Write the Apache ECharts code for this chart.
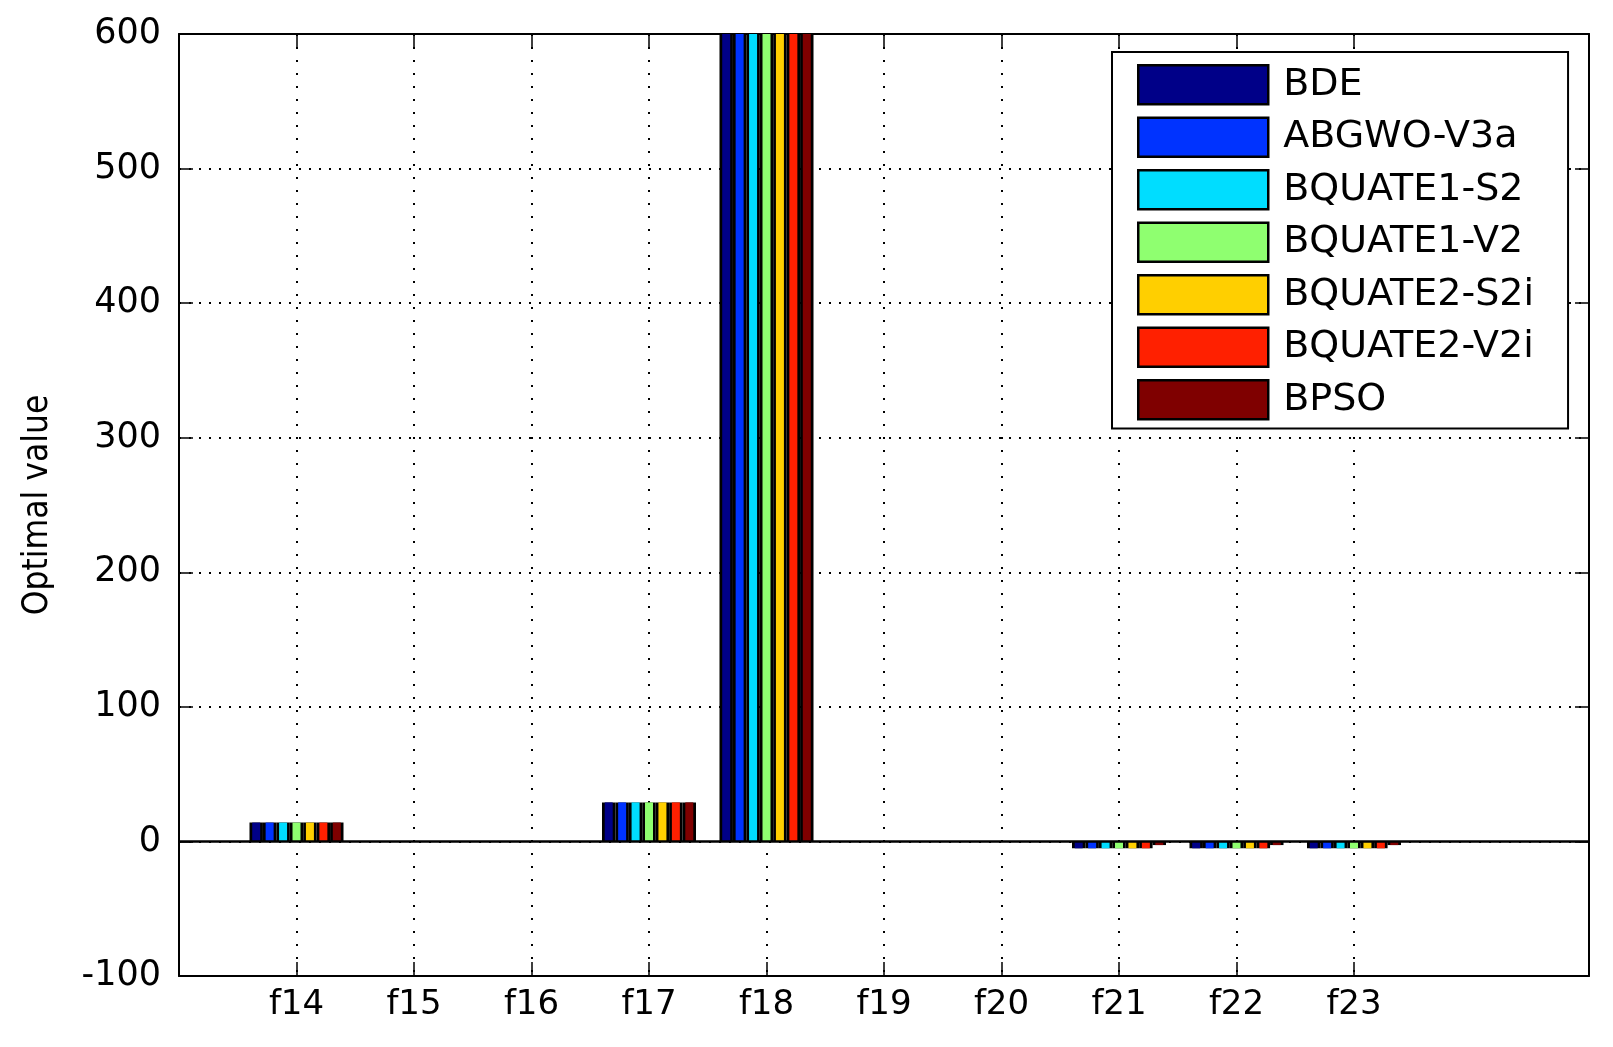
<!DOCTYPE html>
<html>
<head>
<meta charset="utf-8">
<script src="https://cdn.jsdelivr.net/npm/echarts@6/dist/echarts.min.js"></script>
<style>html,body{margin:0;padding:0;background:#fff;}#c{width:1613px;height:1047px;}</style>
</head>
<body>
<div id="c"></div>
<script>
// ---- data ----
const categories = ['f14','f15','f16','f17','f18','f19','f20','f21','f22','f23'];
const seriesNames = ['BDE','ABGWO-V3a','BQUATE1-S2','BQUATE1-V2','BQUATE2-S2i','BQUATE2-V2i','BPSO'];
const seriesColors = ['#000088','#0033ff','#00ddff','#8fff70','#ffcf00','#ff2000','#7f0000'];
const BDE        = [14, 0, 0, 29, 600, 0, 0, -5.1, -5.1, -5.1];
const ABGWO_V3a  = [14, 0, 0, 29, 600, 0, 0, -5.1, -5.1, -5.1];
const BQUATE1_S2 = [14, 0, 0, 29, 600, 0, 0, -5.1, -5.1, -5.1];
const BQUATE1_V2 = [14, 0, 0, 29, 600, 0, 0, -5.1, -5.1, -5.1];
const BQUATE2_S2i= [14, 0, 0, 29, 600, 0, 0, -5.1, -5.1, -5.1];
const BQUATE2_V2i= [14, 0, 0, 29, 600, 0, 0, -5.1, -5.1, -5.1];
const BPSO       = [14, 0, 0, 29, 600, 0, 0, -2.7, -2.7, -2.7];
const yTicks = {min: -100, max: 600, interval: 100};
const yTitle = 'Optimal value';

const allValues = [BDE, ABGWO_V3a, BQUATE1_S2, BQUATE1_V2, BQUATE2_S2i, BQUATE2_V2i, BPSO];
// axis runs 0..12 with categories at positions 1..10
const axisCats = [''].concat(categories, ['', '']);
const pad = v => [null].concat(v, [null, null]);
const isTick = idx => idx >= 1 && idx <= categories.length;

const font = 'DejaVu Sans';
const chart = echarts.init(document.getElementById('c'));

const series = [];
// black edge bars (full slot width) drawn behind the coloured ones
allValues.forEach((vals, i) => {
  series.push({
    name: seriesNames[i] + '_edge',
    type: 'bar',
    xAxisIndex: 1,
    yAxisIndex: 0,
    data: pad(vals.map(v => (v === 0 ? null : v))),
    barWidth: '11.43%',
    barGap: '0%',
    itemStyle: {color: '#000', borderColor: '#000', borderWidth: 3},
    silent: true,
    z: 2,
    markLine: i === 0 ? {
      silent: true, symbol: 'none', label: {show: false},
      lineStyle: {color: '#000', width: 2.5, type: 'solid'},
      data: [{yAxis: 0}], z: 10
    } : undefined
  });
});
// coloured bars
allValues.forEach((vals, i) => {
  series.push({
    name: seriesNames[i],
    type: 'bar',
    xAxisIndex: 0,
    yAxisIndex: 0,
    data: pad(vals),
    barWidth: '6.8%',
    barGap: '68.1%',
    itemStyle: {color: seriesColors[i], borderWidth: 0},
    z: 3
  });
});

chart.setOption({
  animation: false,
  backgroundColor: '#fff',
  grid: {left: 179, right: 24, top: 34, bottom: 71, containLabel: false},
  legend: {
    data: seriesNames,
    orient: 'vertical',
    left: 1112, top: 52,
    itemWidth: 130, itemHeight: 39, itemGap: 11,
    padding: [12, 34, 8, 25],
    borderColor: '#000', borderWidth: 2, backgroundColor: '#fff',
    icon: 'rect',
    itemStyle: {borderColor: '#000', borderWidth: 2.5},
    textStyle: {fontFamily: font, fontSize: 38, lineHeight: 39, color: '#000', padding: [0, 0, 0, 10]},
    selectedMode: false
  },
  xAxis: [{
    type: 'category', data: axisCats, boundaryGap: false, position: 'bottom',
    axisLine: {show: true, onZero: false, lineStyle: {color: '#000', width: 2}},
    axisTick: {show: true, inside: true, length: 14, interval: isTick, lineStyle: {color: '#000', width: 1.5}},
    axisLabel: {show: true, interval: 0, margin: 12, fontFamily: font, fontSize: 34, color: '#000'},
    splitLine: {show: true, interval: isTick, lineStyle: {color: '#000', width: 2, type: [2, 11]}}
  }, {
    type: 'category', data: axisCats, boundaryGap: false, position: 'top',
    axisLine: {show: true, onZero: false, lineStyle: {color: '#000', width: 2}},
    axisTick: {show: true, inside: true, length: 14, interval: isTick, lineStyle: {color: '#000', width: 1.5}},
    axisLabel: {show: false},
    splitLine: {show: false}
  }],
  yAxis: [{
    type: 'value', min: yTicks.min, max: yTicks.max, interval: yTicks.interval, position: 'left',
    name: yTitle, nameLocation: 'middle', nameGap: 124, nameRotate: 90,
    nameTextStyle: {fontFamily: "'DejaVu Sans Condensed', 'DejaVu Sans'", fontSize: 35, color: '#000'},
    axisLine: {show: true, onZero: false, lineStyle: {color: '#000', width: 2}},
    axisTick: {show: true, inside: true, length: 14, lineStyle: {color: '#000', width: 1.5}},
    axisLabel: {show: true, margin: 18, fontFamily: font, fontSize: 35, color: '#000'},
    splitLine: {show: true, lineStyle: {color: '#000', width: 2, type: [2, 8]}}
  }, {
    type: 'value', min: yTicks.min, max: yTicks.max, interval: yTicks.interval, position: 'right',
    axisLine: {show: true, onZero: false, lineStyle: {color: '#000', width: 2}},
    axisTick: {show: true, inside: true, length: 14, lineStyle: {color: '#000', width: 1.5}},
    axisLabel: {show: false},
    splitLine: {show: false}
  }],
  series: series
});
</script>
</body>
</html>
